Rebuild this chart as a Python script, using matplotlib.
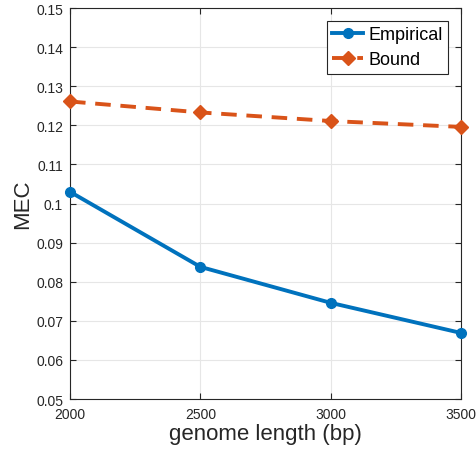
import numpy as np
import matplotlib.pyplot as plt

plt.rcParams['font.family'] = ['Liberation Sans', 'DejaVu Sans']

genome_length = [2000, 2500, 3000, 3500]
empirical = [0.1030, 0.0838, 0.0746, 0.0669]
bound = [0.1261, 0.1233, 0.1211, 0.1196]

x_ticks = [2000, 2500, 3000, 3500]
y_ticks = [0.05, 0.06, 0.07, 0.08, 0.09, 0.1, 0.11, 0.12, 0.13, 0.14, 0.15]
y_labels = ['0.05', '0.06', '0.07', '0.08', '0.09', '0.1', '0.11', '0.12', '0.13', '0.14', '0.15']

fig = plt.figure(figsize=(4.77, 4.52), dpi=100)
ax = fig.add_axes([0.1468, 0.115, 0.8197, 0.865])

ax.plot(genome_length, empirical, color='#0072BD', linewidth=2.8, marker='o',
        markersize=7, label='Empirical', clip_on=False, zorder=3)
ax.plot(genome_length, bound, color='#D95319', linewidth=2.8, linestyle=(0, (4, 2.5)),
        marker='D', markersize=7.5, label='Bound', clip_on=False, zorder=3)

ax.set_xlim(2000, 3500)
ax.set_ylim(0.05, 0.15)
ax.set_xticks(x_ticks)
ax.set_yticks(y_ticks)
ax.set_yticklabels(y_labels)
ax.grid(True, color='#e6e6e6', linewidth=0.8)
ax.set_axisbelow(True)
ax.tick_params(direction='in', top=True, right=True, labelsize=10, colors='#262626', length=4)
ax.tick_params(axis='x', pad=6)
ax.tick_params(axis='y', pad=5)
for s in ax.spines.values():
    s.set_color('#262626')
    s.set_linewidth(0.8)

ax.set_xlabel('genome length (bp)', fontsize=16, color='#262626', labelpad=1)
ax.set_ylabel('MEC', fontsize=16, color='#262626', labelpad=2)

leg = ax.legend(loc='upper right', fontsize=13, fancybox=False, framealpha=1,
                edgecolor='#262626', borderaxespad=0.7, handlelength=1.7,
                borderpad=0.3, labelspacing=0.45, handletextpad=0.3)
leg.get_frame().set_linewidth(0.8)

fig.savefig('out.png', dpi=100)
